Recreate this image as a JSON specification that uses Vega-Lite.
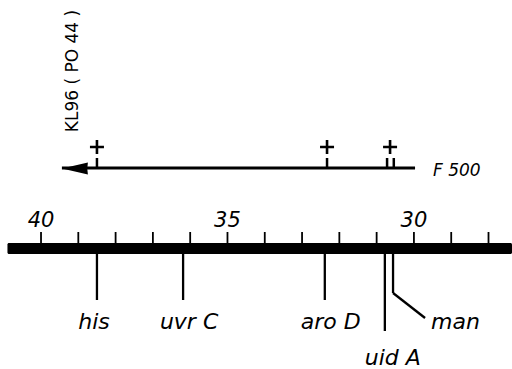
{
  "$schema": "https://vega.github.io/schema/vega-lite/v6.json",
  "width": 512,
  "height": 369,
  "autosize": {"type": "fit", "contains": "padding"},
  "padding": 0,
  "background": "white",
  "config": {"view": {"stroke": null}},
  "datasets": {
    "ticks": [{"pos": 40}, {"pos": 39}, {"pos": 38}, {"pos": 37}, {"pos": 36}, {"pos": 35}, {"pos": 34}, {"pos": 33}, {"pos": 32}, {"pos": 31}, {"pos": 30}, {"pos": 29}, {"pos": 28}],
    "genes": [
      {"gene": "his", "pos": 38.5},
      {"gene": "uvr C", "pos": 36.19},
      {"gene": "aro D", "pos": 32.39},
      {"gene": "uid A", "pos": 30.78},
      {"gene": "man", "pos": 30.56}
    ],
    "sites": [{"pos": 38.5}, {"pos": 32.33}, {"pos": 30.64}],
    "stubs": [{"pos": 38.5}, {"pos": 32.33}, {"pos": 30.72}, {"pos": 30.54}],
    "labels": [{"name": "KL96 ( PO 44 )", "pos": 39.14}, {"name": "F 500", "pos": 29.49}],
    "span": [{"from": 40.9, "to": 27.37, "arrowFrom": 39.44, "arrowTo": 29.97}]
  },
  "layer": [
    {
      "data": {"name": "span"},
      "mark": {"type": "rect", "color": "black", "cornerRadius": 1.5},
      "encoding": {
        "x": {"field": "from", "type": "quantitative", "scale": {"domain": [41.1, 27.37], "nice": false, "zero": false}, "axis": null},
        "x2": {"field": "to"},
        "y": {"datum": 243, "type": "quantitative", "scale": {"domain": [369, 0], "nice": false, "zero": false}, "axis": null},
        "y2": {"datum": 254}
      }
    },
    {
      "data": {"name": "ticks"},
      "mark": {"type": "rule", "strokeWidth": 1.8, "color": "black"},
      "encoding": {
        "x": {"field": "pos", "type": "quantitative"},
        "y": {"datum": 232, "type": "quantitative"},
        "y2": {"datum": 244}
      }
    },
    {
      "data": {"name": "ticks"},
      "transform": [{"filter": "datum.pos % 5 === 0"}],
      "mark": {"type": "text", "font": "DejaVu Sans", "fontStyle": "italic", "fontSize": 21, "align": "center", "baseline": "alphabetic", "color": "black"},
      "encoding": {
        "x": {"field": "pos", "type": "quantitative"},
        "y": {"datum": 227, "type": "quantitative"},
        "text": {"field": "pos", "type": "quantitative"}
      }
    },
    {
      "data": {"name": "span"},
      "mark": {"type": "rule", "strokeWidth": 3, "color": "black"},
      "encoding": {
        "x": {"field": "arrowFrom", "type": "quantitative"},
        "x2": {"field": "arrowTo"},
        "y": {"datum": 168, "type": "quantitative"}
      }
    },
    {
      "data": {"name": "span"},
      "mark": {"type": "point", "shape": "M-1,0L1,-0.46L0.95,0L1,0.46Z", "size": 676, "filled": true, "color": "black", "opacity": 1, "xOffset": 13},
      "encoding": {
        "x": {"field": "arrowFrom", "type": "quantitative"},
        "y": {"datum": 168.5, "type": "quantitative"}
      }
    },
    {
      "data": {"name": "sites"},
      "mark": {"type": "point", "shape": "M-1,0H1M0,-1V1", "size": 196, "filled": false, "strokeWidth": 2.6, "color": "black", "opacity": 1},
      "encoding": {
        "x": {"field": "pos", "type": "quantitative"},
        "y": {"datum": 147, "type": "quantitative"}
      }
    },
    {
      "data": {"name": "stubs"},
      "mark": {"type": "rule", "strokeWidth": 2.5, "color": "black"},
      "encoding": {
        "x": {"field": "pos", "type": "quantitative"},
        "y": {"datum": 158, "type": "quantitative"},
        "y2": {"datum": 168}
      }
    },
    {
      "data": {"name": "genes"},
      "transform": [{"filter": "datum.gene !== 'uid A' && datum.gene !== 'man'"}],
      "mark": {"type": "rule", "strokeWidth": 2.3, "color": "black"},
      "encoding": {
        "x": {"field": "pos", "type": "quantitative"},
        "y": {"datum": 253, "type": "quantitative"},
        "y2": {"datum": 300}
      }
    },
    {
      "data": {"name": "genes"},
      "transform": [{"filter": "datum.gene === 'uid A'"}],
      "mark": {"type": "rule", "strokeWidth": 2.3, "color": "black"},
      "encoding": {
        "x": {"field": "pos", "type": "quantitative"},
        "y": {"datum": 253, "type": "quantitative"},
        "y2": {"datum": 331}
      }
    },
    {
      "data": {"name": "genes"},
      "transform": [{"filter": "datum.gene === 'man'"}],
      "mark": {"type": "rule", "strokeWidth": 2.3, "color": "black"},
      "encoding": {
        "x": {"field": "pos", "type": "quantitative"},
        "y": {"datum": 253, "type": "quantitative"},
        "y2": {"datum": 293}
      }
    },
    {
      "data": {"name": "genes"},
      "transform": [{"filter": "datum.gene === 'man'"}],
      "mark": {"type": "rule", "strokeWidth": 2.3, "color": "black", "x2Offset": 32},
      "encoding": {
        "x": {"field": "pos", "type": "quantitative"},
        "x2": {"field": "pos"},
        "y": {"datum": 293, "type": "quantitative"},
        "y2": {"datum": 318}
      }
    },
    {
      "data": {"name": "genes"},
      "transform": [{"filter": "datum.gene === 'his'"}],
      "mark": {"type": "text", "font": "DejaVu Sans", "fontStyle": "italic", "fontSize": 22, "align": "center", "baseline": "alphabetic", "color": "black", "dx": -3},
      "encoding": {
        "x": {"field": "pos", "type": "quantitative"},
        "y": {"datum": 329, "type": "quantitative"},
        "text": {"field": "gene"}
      }
    },
    {
      "data": {"name": "genes"},
      "transform": [{"filter": "datum.gene === 'uvr C' || datum.gene === 'aro D'"}],
      "mark": {"type": "text", "font": "DejaVu Sans", "fontStyle": "italic", "fontSize": 22, "align": "center", "baseline": "alphabetic", "color": "black", "dx": 6},
      "encoding": {
        "x": {"field": "pos", "type": "quantitative"},
        "y": {"datum": 329, "type": "quantitative"},
        "text": {"field": "gene"}
      }
    },
    {
      "data": {"name": "genes"},
      "transform": [{"filter": "datum.gene === 'uid A'"}],
      "mark": {"type": "text", "font": "DejaVu Sans", "fontStyle": "italic", "fontSize": 22, "align": "center", "baseline": "alphabetic", "color": "black", "dx": 8},
      "encoding": {
        "x": {"field": "pos", "type": "quantitative"},
        "y": {"datum": 365, "type": "quantitative"},
        "text": {"field": "gene"}
      }
    },
    {
      "data": {"name": "genes"},
      "transform": [{"filter": "datum.gene === 'man'"}],
      "mark": {"type": "text", "font": "DejaVu Sans", "fontStyle": "italic", "fontSize": 22, "align": "left", "baseline": "alphabetic", "color": "black", "dx": 38},
      "encoding": {
        "x": {"field": "pos", "type": "quantitative"},
        "y": {"datum": 329, "type": "quantitative"},
        "text": {"field": "gene"}
      }
    },
    {
      "data": {"name": "labels"},
      "transform": [{"filter": "datum.name === 'KL96 ( PO 44 )'"}],
      "mark": {"type": "text", "font": "DejaVu Sans", "fontSize": 17, "angle": 270, "align": "center", "baseline": "middle", "color": "black"},
      "encoding": {
        "x": {"field": "pos", "type": "quantitative"},
        "y": {"datum": 71, "type": "quantitative"},
        "text": {"field": "name"}
      }
    },
    {
      "data": {"name": "labels"},
      "transform": [{"filter": "datum.name === 'F 500'"}],
      "mark": {"type": "text", "font": "DejaVu Sans", "fontStyle": "italic", "fontSize": 17, "align": "left", "baseline": "alphabetic", "color": "black"},
      "encoding": {
        "x": {"field": "pos", "type": "quantitative"},
        "y": {"datum": 176, "type": "quantitative"},
        "text": {"field": "name"}
      }
    }
  ]
}
